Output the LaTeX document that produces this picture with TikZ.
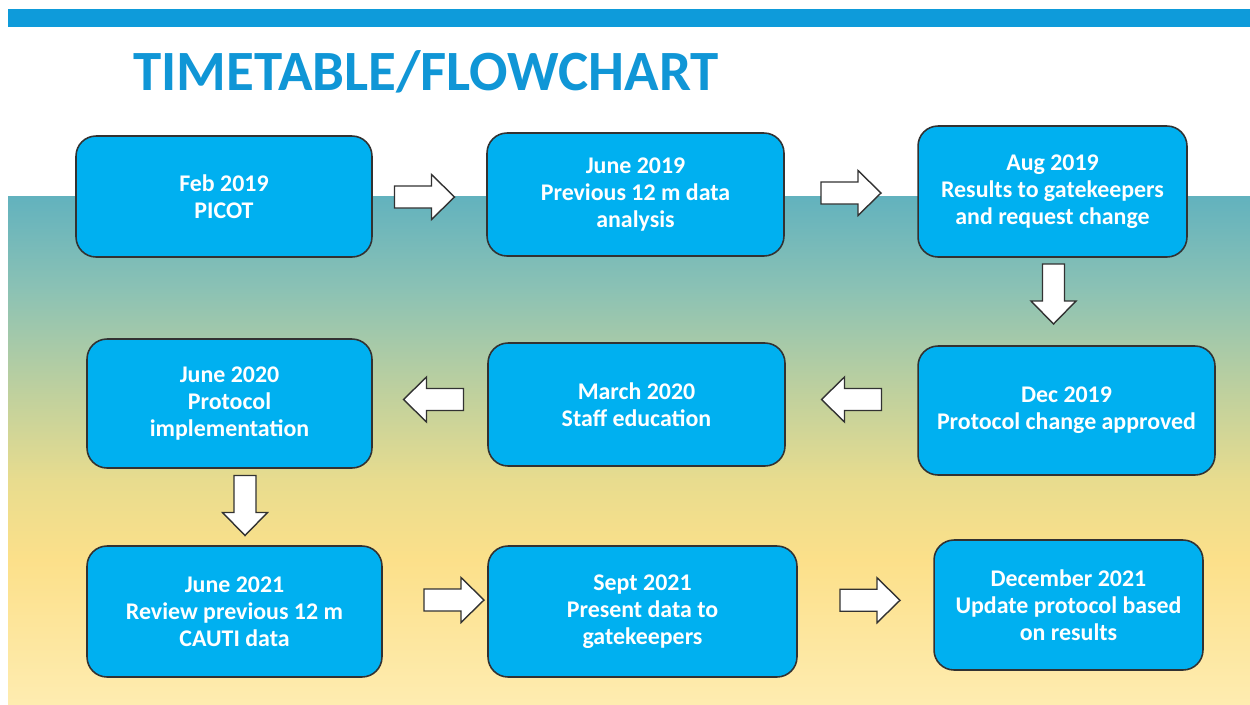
\documentclass[tikz,border=0pt]{standalone}
\usepackage{fontspec}
\setmainfont{Carlito}
\usepackage{xcolor}
\usetikzlibrary{calc}
\definecolor{boxblue}{RGB}{0,176,240}
\definecolor{barblue}{RGB}{14,155,218}
\definecolor{titleblue}{RGB}{16,150,214}
\definecolor{edge}{RGB}{50,50,50}
\definecolor{bga}{RGB}{98,178,190}
\definecolor{bgb}{RGB}{140,194,180}
\definecolor{bgc}{RGB}{190,208,158}
\definecolor{bgd}{RGB}{232,220,142}
\definecolor{bge}{RGB}{252,224,138}
\definecolor{bgf}{RGB}{254,236,176}

\tikzset{
  stage/.style={draw=edge, line width=0.9pt, fill=boxblue, rounded corners=0.4cm,
    text=white, align=center, inner sep=2pt,
    font=\bfseries\fontsize{13.6}{15.3}\selectfont},
  arrowbody/.style={draw=edge, line width=0.8pt, fill=white},
  pics/blockarrow/.style={code={
    \draw[arrowbody] (-30,-11) -- (7,-11) -- (7,-22.5) -- (30,0)
      -- (7,22.5) -- (7,11) -- (-30,11) -- cycle;}}
}

\begin{document}
\begin{tikzpicture}[x=0.02cm, y=-0.02cm]
  \useasboundingbox (0,0) rectangle (1250,704);
  \fill[white] (0,0) rectangle (1250,704);
  \fill[barblue] (8,9) rectangle (1250,27);
  \shade[top color=bga, bottom color=bgb] (8,196) rectangle (1250,291);
  \shade[top color=bgb, bottom color=bgc] (8,290) rectangle (1250,391);
  \shade[top color=bgc, bottom color=bgd] (8,390) rectangle (1250,481);
  \shade[top color=bgd, bottom color=bge] (8,480) rectangle (1250,561);
  \shade[top color=bge, bottom color=bgf] (8,560) rectangle (1250,704);

  \node[anchor=base west, inner sep=0, text=titleblue,
    font=\bfseries\fontsize{32.4}{40}\selectfont] (title) at (133,90) {TIMETABLE/FLOWCHART};

  \node[stage, minimum width=5.92cm, minimum height=2.42cm] (feb19) at (224,196.5) {Feb 2019\\PICOT};
  \node[stage, minimum width=5.94cm, minimum height=2.46cm] (jun19) at (635.5,194.5) {June 2019\\Previous 12 m data\\analysis};
  \node[stage, minimum width=5.38cm, minimum height=2.62cm] (aug19) at (1052.5,191.5) {Aug 2019\\Results to gatekeepers\\and request change};
  \node[stage, minimum width=5.94cm, minimum height=2.58cm] (dec19) at (1066.5,410.5) {Dec 2019\\Protocol change approved};
  \node[stage, minimum width=5.94cm, minimum height=2.46cm] (mar20) at (636.5,404.5) {March 2020\\Staff education};
  \node[stage, minimum width=5.70cm, minimum height=2.58cm] (jun20) at (229.5,403.5) {June 2020\\Protocol\\implementation};
  \node[stage, minimum width=5.90cm, minimum height=2.62cm] (jun21) at (234.5,611.5) {June 2021\\Review previous 12 m\\CAUTI data};
  \node[stage, minimum width=6.18cm, minimum height=2.62cm] (sep21) at (642.5,611.5) {Sept 2021\\Present data to\\gatekeepers};
  \node[stage, minimum width=5.38cm, minimum height=2.60cm] (dec21) at (1068.5,605) {December 2021\\Update protocol based\\on results};

  % block arrows between the stages
  \pic at ($(feb19.east)!.5!(jun19.west)+(-5,1.5)$) {blockarrow};
  \pic at ($(jun19.east)!.5!(aug19.west)$) {blockarrow};
  \pic[rotate=-90] at ($(aug19.south)!.5!(dec19.north)+(-6,-7.5)$) {blockarrow};
  \pic[rotate=180] at ($(dec19.west)!.5!(mar20.east)+(0,-8)$) {blockarrow};
  \pic[rotate=180] at ($(mar20.west)!.5!(jun20.east)+(3.5,-4.5)$) {blockarrow};
  \pic[rotate=-90] at ($(jun20.south)!.5!(jun21.north)+(13,-1.5)$) {blockarrow};
  \pic at ($(jun21.east)!.5!(sep21.west)+(19,-11.5)$) {blockarrow};
  \pic at ($(sep21.east)!.5!(dec21.west)+(4.5,-8)$) {blockarrow};
\end{tikzpicture}
\end{document}
